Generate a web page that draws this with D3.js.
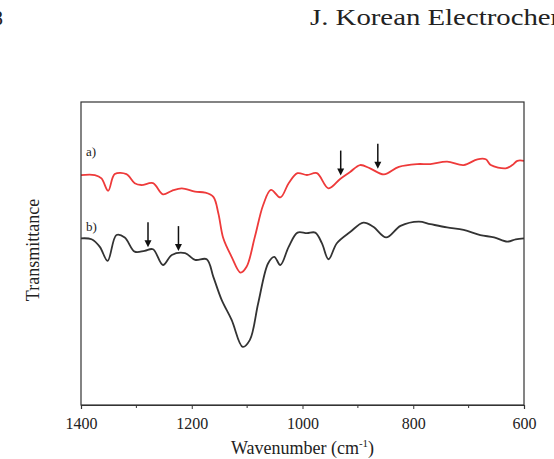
<!DOCTYPE html>
<html>
<head>
<meta charset="utf-8">
<script src="https://cdn.jsdelivr.net/npm/d3@7"></script>
<style>
  body { margin: 0; background: #fff; }
  svg { display: block; }
  text { font-family: "Liberation Serif", "Times New Roman", serif; fill: #222; }
</style>
</head>
<body>
<div id="chart"></div>
<script>
// wavenumbers (cm-1) sampled for each spectrum
var wnA = [1400,1375,1363,1351,1339,1318,1303,1291,1270,1252,1236,1218,1194,1176,1161,1152,1143,1128,1112,1101,1086,1071,1057,1040,1025,1009,992,974,953,932,914,896,878,853,826,793,769,739,709,684,669,660,633,621,612,600];
var tA  = [75.9,75.9,74.8,70.7,76.2,76.2,73.2,72.6,73.2,69.5,70.7,71.5,70.4,70.1,68.7,63.3,55.0,48.9,43.7,45.6,55.5,66.0,71.0,68.5,73.2,76.5,75.9,76.5,71.5,74.6,76.9,79.2,78.1,76.1,78.6,79.5,79.5,80.3,79.2,81.1,81.1,79.2,78.1,79.2,80.6,80.6];

var wnB = [1400,1381,1366,1352,1336,1321,1303,1285,1270,1252,1236,1212,1194,1173,1161,1146,1128,1108,1095,1080,1062,1051,1040,1025,1009,992,977,965,953,938,914,890,872,849,823,790,769,739,709,679,654,630,615,600];
var tB  = [55.0,54.7,52.2,47.6,56.1,55.3,50.6,50.9,51.4,46.2,49.5,50.1,47.9,48.1,42.3,34.7,28.1,19.2,21.5,33.6,46.8,48.9,46.2,52.2,56.9,56.7,56.9,53.4,48.1,53.4,57.1,60.2,58.8,55.3,59.1,60.5,59.7,58.6,57.8,56.1,55.3,53.9,54.7,55.0];

// marked bands
var arrowsA = [931, 864];
var arrowsB = [1279, 1224];

var xTicks = [1400, 1200, 1000, 800, 600];
var xMinor = [1300, 1100, 900, 700];

var W = 554, H = 459;
var m = { top: 102, right: 30, bottom: 54, left: 81 };

var svg = d3.select('#chart').append('svg')
  .attr('width', W)
  .attr('height', H);

// page header (cropped from journal page)
svg.append('text')
  .attr('transform', 'translate(310,25) scale(1.2,1)')
  .style('font-size', '24px')
  .text('J. Korean Electrochem. Soc.');
svg.append('text')
  .attr('x', -8).attr('y', 25)
  .style('font-size', '22px')
  .text('8');

var x = d3.scaleLinear().domain([1400, 600]).range([m.left, W - m.right]);
var y = d3.scaleLinear().domain([0, 100]).range([H - m.bottom, m.top]);

var line = d3.line()
  .x(function(d) { return x(d[0]); })
  .y(function(d) { return y(d[1]); })
  .curve(d3.curveCatmullRom.alpha(0.5));

var seriesA = d3.zip(wnA, tA);
var seriesB = d3.zip(wnB, tB);

svg.append('path')
  .datum(seriesA)
  .attr('d', line)
  .attr('fill', 'none')
  .attr('stroke', '#ee3a3a')
  .attr('stroke-width', 1.8);

svg.append('path')
  .datum(seriesB)
  .attr('d', line)
  .attr('fill', 'none')
  .attr('stroke', '#333')
  .attr('stroke-width', 1.8);

// value of a series at a wavenumber (linear between samples)
function valueAt(wn, ts, w) {
  for (var i = 0; i < wn.length - 1; i++) {
    if (w <= wn[i] && w >= wn[i + 1]) {
      var f = (wn[i] - w) / (wn[i] - wn[i + 1]);
      return ts[i] + f * (ts[i + 1] - ts[i]);
    }
  }
  return ts[ts.length - 1];
}

function drawArrows(list, wn, ts) {
  list.forEach(function(w) {
    var tip = y(valueAt(wn, ts, w)) - 3;
    var px = x(w);
    svg.append('line')
      .attr('x1', px).attr('x2', px)
      .attr('y1', tip - 25).attr('y2', tip - 5)
      .attr('stroke', '#111')
      .attr('stroke-width', 1.5);
    svg.append('path')
      .attr('d', 'M' + (px - 3.5) + ',' + (tip - 7) + 'L' + (px + 3.5) + ',' + (tip - 7) + 'L' + px + ',' + tip + 'Z')
      .attr('fill', '#111');
  });
}
drawArrows(arrowsA, wnA, tA);
drawArrows(arrowsB, wnB, tB);

// series labels
svg.append('text').attr('x', 86).attr('y', 156).style('font-size', '13px').text('a)');
svg.append('text').attr('x', 86).attr('y', 231).style('font-size', '13px').text('b)');

// frame
svg.append('rect')
  .attr('x', m.left).attr('y', m.top)
  .attr('width', W - m.right - m.left)
  .attr('height', H - m.bottom - m.top)
  .attr('fill', 'none')
  .attr('stroke', '#333')
  .attr('stroke-width', 1.2);

var xAxis = d3.axisBottom(x)
  .tickValues(xTicks)
  .tickSize(4)
  .tickFormat(d3.format('d'));

var gx = svg.append('g')
  .attr('class', 'x axis')
  .attr('transform', 'translate(0,' + (H - m.bottom) + ')')
  .call(xAxis);
gx.select('.domain').attr('stroke', '#333').attr('stroke-width', 1.2);
gx.selectAll('.tick line').attr('stroke', '#333');
gx.selectAll('.tick text')
  .attr('dy', '1.05em')
  .style('font-family', '"Liberation Serif", serif')
  .style('font-size', '16px')
  .attr('fill', '#222');

gx.selectAll('.minor')
  .data(xMinor)
  .enter()
  .append('line')
  .attr('class', 'minor')
  .attr('x1', function(d) { return x(d); })
  .attr('x2', function(d) { return x(d); })
  .attr('y1', 0).attr('y2', 3)
  .attr('stroke', '#333');

// axis titles
var xt = svg.append('text')
  .attr('x', (m.left + W - m.right) / 2)
  .attr('y', 454)
  .attr('text-anchor', 'middle')
  .style('font-size', '18px');
xt.append('tspan').text('Wavenumber (cm');
xt.append('tspan').attr('dy', -7).style('font-size', '11px').text('-1');
xt.append('tspan').attr('dy', 7).text(')');

svg.append('text')
  .attr('transform', 'translate(39,250) rotate(-90)')
  .attr('text-anchor', 'middle')
  .style('font-size', '18px')
  .text('Transmittance');
</script>
</body>
</html>
